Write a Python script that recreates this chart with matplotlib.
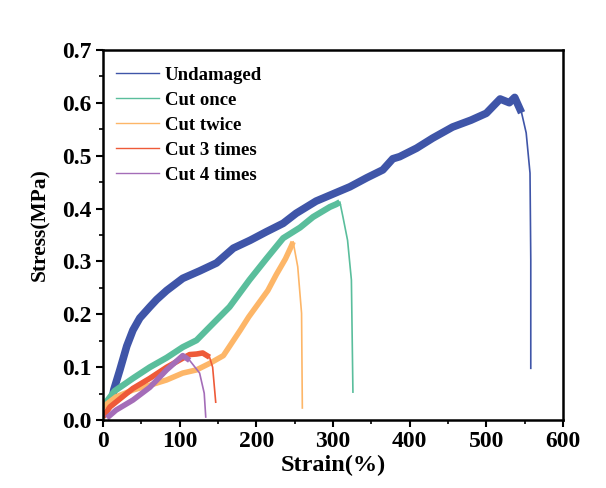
import matplotlib
matplotlib.use("Agg")
import matplotlib.pyplot as plt
from matplotlib.ticker import MultipleLocator

# ---- data ----
undamaged_strain = [12, 14, 22, 31, 39, 48, 61, 70, 83, 104, 126, 148, 170, 192, 213, 235, 252, 278,
                    322, 344, 365, 378, 387, 409, 430, 456, 480, 500, 518, 530, 537, 546, 552, 557, 558, 558]
undamaged_stress = [0.04, 0.057, 0.095, 0.140, 0.170, 0.193, 0.214, 0.228, 0.245, 0.268, 0.282,
                    0.297, 0.325, 0.340, 0.356, 0.372, 0.391, 0.414, 0.441, 0.458, 0.473, 0.494, 0.498, 0.514,
                    0.533, 0.554, 0.567, 0.580, 0.607, 0.600, 0.610, 0.581, 0.543, 0.467, 0.303, 0.098]

once_strain = [2, 15, 40, 61, 83, 104, 122, 139, 165, 191, 213, 235, 257, 274, 296, 304, 309, 313, 319, 324, 326]
once_stress = [0.03, 0.055, 0.080, 0.100, 0.118, 0.138, 0.151, 0.176, 0.214, 0.265, 0.305, 0.344, 0.364,
               0.384, 0.403, 0.408, 0.412, 0.384, 0.340, 0.265, 0.053]

twice_strain = [0, 17, 39, 61, 83, 104, 122, 140, 157, 179, 190, 205, 215, 226, 238, 246, 248, 254, 259, 260]
twice_stress = [0.025, 0.044, 0.057, 0.066, 0.076, 0.089, 0.095, 0.108, 0.122, 0.170, 0.195, 0.225, 0.245,
                0.275, 0.305, 0.330, 0.337, 0.290, 0.202, 0.023]

three_strain = [0, 9, 39, 61, 83, 104, 113, 122, 130, 139, 143, 147]
three_stress = [0.006, 0.025, 0.060, 0.079, 0.100, 0.117, 0.124, 0.125, 0.127, 0.119, 0.100, 0.034]

four_strain = [5, 17, 39, 61, 83, 104, 113, 126, 132, 134]
four_stress = [0.004, 0.019, 0.038, 0.062, 0.095, 0.122, 0.113, 0.089, 0.051, 0.006]

labels = ["Undamaged", "Cut once", "Cut twice", "Cut 3 times", "Cut 4 times"]
colors = ["#3F55A8", "#5ABE9C", "#FDB668", "#EE5A38", "#A46DB8"]
# index where the fracture tail (thin line) starts
tail_start = [31, 16, 16, 9, 6]
band_width = [5.5, 4.5, 4.0, 4.0, 4.0]

series = [(undamaged_strain, undamaged_stress), (once_strain, once_stress), (twice_strain, twice_stress),
          (three_strain, three_stress), (four_strain, four_stress)]

plt.rcParams['font.family'] = ['Liberation Serif', 'DejaVu Serif']
plt.rcParams['font.weight'] = 'bold'

fig = plt.figure(figsize=(6.06, 4.88), dpi=100)
ax = fig.add_axes([0.170, 0.139, 0.759, 0.759])

for (x, y), lab, c, ts, bw in zip(series, labels, colors, tail_start, band_width):
    ax.plot(x[:ts + 1], y[:ts + 1], color=c, lw=bw, solid_capstyle='butt', solid_joinstyle='round')
    ax.plot(x[ts:], y[ts:], color=c, lw=1.2)
    ax.plot([], [], color=c, lw=1.0, label=lab)

ax.set_xlim(0, 600)
ax.set_ylim(0, 0.7)
ax.xaxis.set_major_locator(MultipleLocator(100))
ax.xaxis.set_minor_locator(MultipleLocator(50))
ax.yaxis.set_major_locator(MultipleLocator(0.1))
ax.yaxis.set_minor_locator(MultipleLocator(0.05))
ax.yaxis.set_major_formatter(matplotlib.ticker.FormatStrFormatter('%.1f'))
ax.tick_params(which='major', direction='out', length=5, width=1.5, labelsize=17, pad=3)
ax.tick_params(which='minor', direction='out', length=3, width=1.2)
for sp in ax.spines.values():
    sp.set_linewidth(1.8)
for lab in ax.get_xticklabels() + ax.get_yticklabels():
    lab.set_fontweight('bold')

ax.set_xlabel("Strain(%)", fontsize=17.5, fontweight='bold', labelpad=2)
ax.set_ylabel("Stress(MPa)", fontsize=15.5, fontweight='bold')
ax.yaxis.set_label_coords(-0.114, 0.527)

leg = ax.legend(loc='upper left', frameon=False, fontsize=13.5, handlelength=2.3, handletextpad=0.3,
                labelspacing=0.42, borderaxespad=0.3, bbox_to_anchor=(0.0, 0.99))
for t in leg.get_texts():
    t.set_fontweight('bold')

fig.savefig("out.png", dpi=100)
